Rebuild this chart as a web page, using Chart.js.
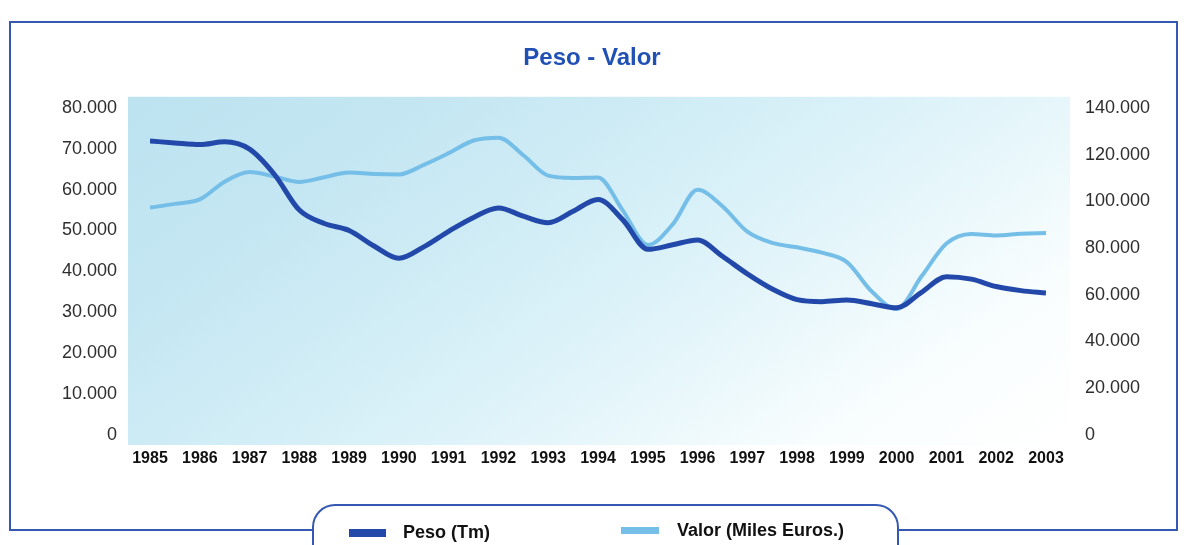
<!DOCTYPE html>
<html>
<head>
<meta charset="utf-8">
<script src="https://cdn.jsdelivr.net/npm/chart.js@4/dist/chart.umd.min.js"></script>
<style>
  html, body { margin: 0; padding: 0; background: #ffffff; }
  #caja { width: 1184px; height: 545px; position: relative; }
</style>
</head>
<body>
<div id="caja"><canvas id="pesoValorGrafico"></canvas></div>
<script>
// periodos semestrales
var periodos = [1985, 1985.5, 1986, 1986.5, 1987, 1987.5, 1988, 1988.5, 1989, 1989.5,
                1990, 1990.5, 1991, 1991.5, 1992, 1992.5, 1993, 1993.5, 1994, 1994.5,
                1995, 1995.5, 1996, 1996.5, 1997, 1997.5, 1998, 1998.5, 1999, 1999.5,
                2000, 2000.5, 2001, 2001.5, 2002, 2002.5, 2003];

var peso = [71900, 71400, 71000, 71700, 69900, 63700, 55000, 51700, 50000, 46200,
            43200, 46000, 49800, 53200, 55500, 53500, 51900, 54700, 57600, 52600,
            45400, 46500, 47700, 43700, 39400, 35700, 33100, 32600, 33000, 32100,
            31100, 34900, 38700, 38100, 36300, 35300, 34700];

var valor = [97300, 98900, 100800, 108400, 112500, 110600, 108300, 110300, 112300, 111700,
             111500, 115600, 120600, 126000, 127200, 119700, 111000, 110000, 110200, 96000,
             81300, 90100, 104900, 97900, 87000, 82200, 80300, 78000, 74000, 61400,
             53900, 67900, 81900, 86000, 85400, 86100, 86400];

var anos = [1985, 1986, 1987, 1988, 1989, 1990, 1991, 1992, 1993, 1994,
            1995, 1996, 1997, 1998, 1999, 2000, 2001, 2002, 2003];
var ticksPeso = [0, 10000, 20000, 30000, 40000, 50000, 60000, 70000, 80000];
var ticksValor = [0, 20000, 40000, 60000, 80000, 100000, 120000, 140000];

var etiquetas = ['Peso (Tm)', 'Valor (Miles Euros.)'];
var colorPeso = '#2249a9';
var colorValor = '#74bee8';
var azulMarco = '#3559b3';

function formato(v) {
    return String(v).replace(/\B(?=(\d{3})+(?!\d))/g, '.');
}

function puntos(serie) {
    return serie.map(function(v, i) { return { x: periodos[i], y: v }; });
}

var fondoPlugin = {
    id: 'fondo',
    beforeDraw: function(chart) {
        var ctx = chart.ctx;
        var a = chart.chartArea;
        ctx.save();
        ctx.fillStyle = '#ffffff';
        ctx.fillRect(0, 0, chart.width, chart.height);

        // marco
        ctx.strokeStyle = azulMarco;
        ctx.lineWidth = 2;
        ctx.strokeRect(10, 22, 1167, 508);

        // fondo degradado del area de trazado
        var x0 = a.left - 22, y0 = a.top - 11;
        var x1 = a.right + 24, y1 = a.bottom + 10;
        var g = ctx.createLinearGradient(x0, y0, x0 + 0.57 * 822, y0 + 0.82 * 822);
        g.addColorStop(0, '#bde3f0');
        g.addColorStop(0.2, '#c3e6f2');
        g.addColorStop(0.35, '#cdebf5');
        g.addColorStop(0.55, '#dcf2f9');
        g.addColorStop(0.68, '#e9f7fb');
        g.addColorStop(0.82, '#f8fdfe');
        g.addColorStop(1, '#ffffff');
        ctx.fillStyle = g;
        ctx.fillRect(x0, y0, x1 - x0, y1 - y0);
        ctx.restore();
    },
    afterDraw: function(chart) {
        var ctx = chart.ctx;
        ctx.save();
        // caja de la leyenda
        ctx.beginPath();
        ctx.roundRect(313, 505, 585, 70, 22);
        ctx.fillStyle = '#ffffff';
        ctx.fill();
        ctx.strokeStyle = azulMarco;
        ctx.lineWidth = 2;
        ctx.stroke();

        ctx.font = 'bold 18px "Liberation Sans", Arial, sans-serif';
        ctx.textBaseline = 'middle';
        ctx.fillStyle = colorPeso;
        ctx.fillRect(349, 529, 37, 8);
        ctx.fillStyle = colorValor;
        ctx.fillRect(621, 527, 38, 7);
        ctx.fillStyle = '#111111';
        ctx.fillText(etiquetas[0], 403, 533);
        ctx.fillText(etiquetas[1], 677, 531);
        ctx.restore();
    }
};

var ctx = document.getElementById('pesoValorGrafico').getContext('2d');
window.grafico = new Chart(ctx, {
    type: 'line',
    data: {
        datasets: [{
            label: etiquetas[0],
            data: puntos(peso),
            borderColor: colorPeso,
            borderWidth: 5,
            pointRadius: 0,
            cubicInterpolationMode: 'monotone',
            yAxisID: 'y'
        }, {
            label: etiquetas[1],
            data: puntos(valor),
            borderColor: colorValor,
            borderWidth: 4,
            pointRadius: 0,
            cubicInterpolationMode: 'monotone',
            yAxisID: 'y1'
        }]
    },
    options: {
        responsive: true,
        maintainAspectRatio: false,
        animation: false,
        layout: { padding: 0 },
        plugins: {
            legend: { display: false },
            tooltip: { enabled: false },
            title: {
                display: true,
                text: 'Peso - Valor',
                color: '#2150b4',
                font: { family: '"Liberation Sans", Arial, sans-serif', size: 24, weight: 'bold' },
                padding: { top: 44, bottom: 35 }
            }
        },
        scales: {
            x: {
                type: 'linear',
                min: 1985,
                max: 2003,
                afterBuildTicks: function(s) { s.ticks = anos.map(function(v) { return { value: v }; }); },
                afterFit: function(s) { s.height = 110; },
                grid: { display: false, drawTicks: false },
                border: { display: false },
                ticks: {
                    padding: 14,
                    autoSkip: false,
                    maxRotation: 0,
                    color: '#111111',
                    font: { family: '"Liberation Sans", Arial, sans-serif', size: 16, weight: 'bold' },
                    callback: function(v) { return String(v); }
                }
            },
            y: {
                position: 'left',
                min: 0,
                max: 80000,
                afterBuildTicks: function(s) { s.ticks = ticksPeso.map(function(v) { return { value: v }; }); },
                afterFit: function(s) { s.width = 150; },
                grid: { display: false, drawTicks: false },
                border: { display: false },
                ticks: {
                    padding: 33,
                    color: '#2e2e2e',
                    font: { family: '"Liberation Sans", Arial, sans-serif', size: 18 },
                    callback: function(v) { return formato(v); }
                }
            },
            y1: {
                position: 'right',
                min: 0,
                max: 140000,
                afterBuildTicks: function(s) { s.ticks = ticksValor.map(function(v) { return { value: v }; }); },
                afterFit: function(s) { s.width = 138; },
                grid: { display: false, drawTicks: false },
                border: { display: false },
                ticks: {
                    padding: 39,
                    color: '#2e2e2e',
                    font: { family: '"Liberation Sans", Arial, sans-serif', size: 18 },
                    callback: function(v) { return formato(v); }
                }
            }
        }
    },
    plugins: [fondoPlugin]
});
</script>
</body>
</html>
